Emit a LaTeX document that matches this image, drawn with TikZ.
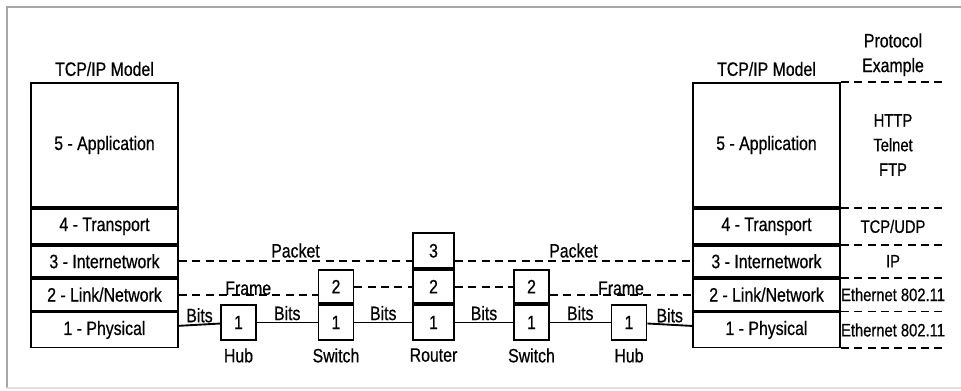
\documentclass[tikz,border=0pt]{standalone}
\usepackage{fontspec}
\setmainfont{Liberation Sans}[FakeStretch=0.82, FakeBold=0.6]
\usetikzlibrary{positioning}

\begin{document}
\begin{tikzpicture}[x=0.75pt, y=-0.75pt,
    every node/.style={font=\fontsize{14.5}{18.5}\selectfont},
    small/.style={font=\fontsize{13.5}{18.5}\selectfont},
    layer/.style={draw, line width=1.4pt, minimum width=110.25pt, inner sep=0pt},
    devbox/.style={draw, line width=1.4pt, minimum width=26.25pt, inner sep=0pt},
    pdu/.style={dashed, line width=1.4pt, dash pattern=on 6pt off 4pt},
    wire/.style={line width=1.4pt}]
    \useasboundingbox (0,0) rectangle (961,390);
    % Frame
    \draw[gray!70, line width=1.5pt] (7,388) -- (7,7) -- (961,7);
    \draw[gray!25, line width=1pt] (7,388) -- (961,388);
    % Left stack
    \node[layer, minimum height=93pt] (lA) at (104.5,145) {5 - Application};
    \node[layer, minimum height=26.25pt, below=0pt of lA] (lT) {4 - Transport};
    \node[layer, minimum height=23.25pt, below=0pt of lT] (lI) {3 - Internetwork};
    \node[layer, minimum height=24pt, below=0pt of lI] (lL) {2 - Link/Network};
    \node[layer, minimum height=26.25pt, below=0pt of lL] (lP) {1 - Physical};
    \node[above=1pt of lA] {TCP/IP Model};
    % Right stack
    \node[layer, minimum height=93pt] (rA) at (766.5,145) {5 - Application};
    \node[layer, minimum height=26.25pt, below=0pt of rA] (rT) {4 - Transport};
    \node[layer, minimum height=23.25pt, below=0pt of rT] (rI) {3 - Internetwork};
    \node[layer, minimum height=24pt, below=0pt of rI] (rL) {2 - Link/Network};
    \node[layer, minimum height=26.25pt, below=0pt of rL] (rP) {1 - Physical};
    \node[above=1pt of rA] {TCP/IP Model};
    % Protocol column
    \coordinate (pe) at (945,0);
    \coordinate (pc) at (893,0);
    \node[above=1pt, align=center] at (pc |- rA.north) {Protocol\\Example};
    \foreach \a in {rA.north east, rA.south east, rT.south east, rI.south east, rL.south east, rP.south east}
        \draw[pdu] (\a) -- (\a -| pe);
    \node[small, align=center] at (pc |- rA) {HTTP\\Telnet\\FTP};
    \node[small] at (pc |- rT) {TCP/UDP};
    \node[small] at (pc |- rI) {IP};
    \node[small] at (pc |- rL) {Ethernet 802.11};
    \node[small] at (pc |- rP) {Ethernet 802.11};
    % Devices
    \node[devbox, minimum height=26.25pt] (hubA) at (238.5,322.5) {1};
    \node[devbox, minimum height=26.25pt] (swA1) at (336,322.5) {1};
    \node[devbox, minimum height=24.75pt, above=0pt of swA1] (swA2) {2};
    \node[devbox, minimum width=30.75pt, minimum height=26.25pt] (rt1) at (433.5,322.5) {1};
    \node[devbox, minimum width=30.75pt, minimum height=24.75pt, above=0pt of rt1] (rt2) {2};
    \node[devbox, minimum width=30.75pt, minimum height=26.25pt, above=0pt of rt2] (rt3) {3};
    \node[devbox, minimum height=26.25pt] (swB1) at (531.5,322.5) {1};
    \node[devbox, minimum height=24.75pt, above=0pt of swB1] (swB2) {2};
    \node[devbox, minimum height=26.25pt] (hubB) at (629,322.5) {1};
    \node[below=2pt of hubA] {Hub};
    \node[below=2pt of swA1] {Switch};
    \node[below=2pt of rt1] {Router};
    \node[below=2pt of swB1] {Switch};
    \node[below=2pt of hubB] {Hub};
    % Bits
    \draw[wire] (lP) -- node[above, inner sep=1pt] {Bits} (hubA);
    \draw[wire] (hubA) -- node[above, inner sep=1pt] {Bits} (swA1);
    \draw[wire] (swA1) -- node[above, inner sep=1pt] {Bits} (rt1);
    \draw[wire] (rt1) -- node[above, inner sep=1pt] {Bits} (swB1);
    \draw[wire] (swB1) -- node[above, inner sep=1pt] {Bits} (hubB);
    \draw[wire] (hubB) -- node[above, inner sep=1pt] {Bits} (rP);
    % Frames
    \draw[pdu] (lL.east) -- node[above, inner sep=0pt, yshift=-1pt] {Frame} (lL.east -| swA2.west);
    \draw[pdu] (swA2) -- (rt2);
    \draw[pdu] (rt2) -- (swB2);
    \draw[pdu] (rL.west -| swB2.east) -- node[above, inner sep=0pt, yshift=-1pt] {Frame} (rL.west);
    % Packets
    \draw[pdu] (lI.east) -- node[above, inner sep=2pt] {Packet} (lI.east -| rt3.west);
    \draw[pdu] (rI.west -| rt3.east) -- node[above, inner sep=2pt] {Packet} (rI.west);
\end{tikzpicture}
\end{document}
